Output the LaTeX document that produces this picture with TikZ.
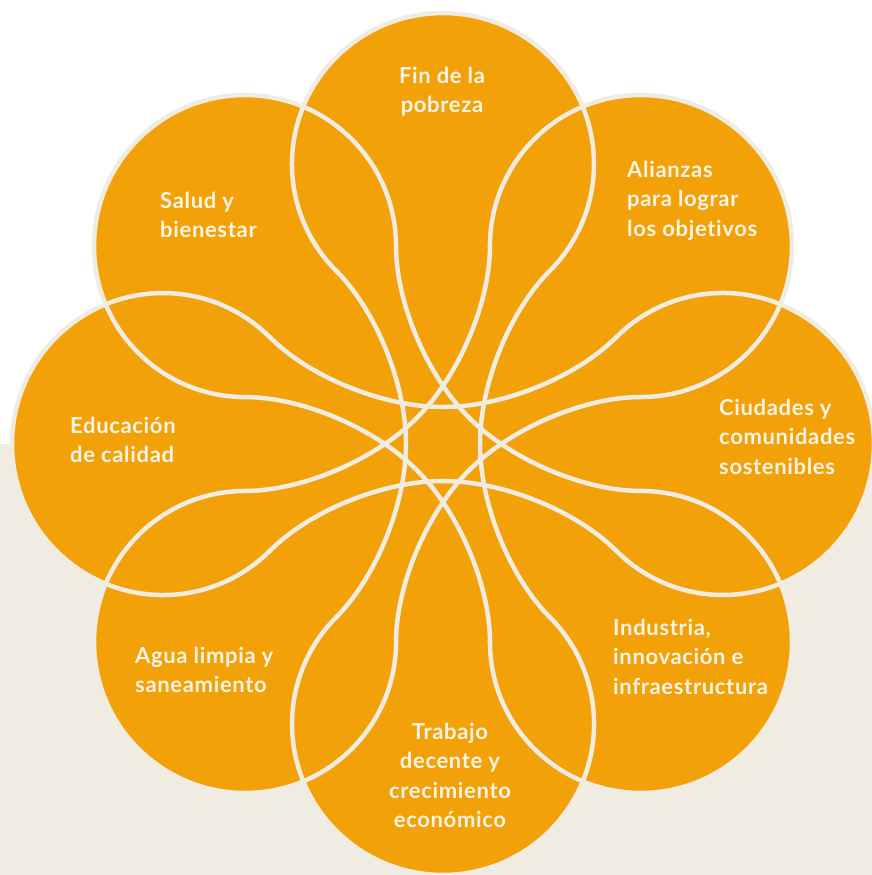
\documentclass[tikz,border=0pt]{standalone}
\usepackage{fontspec}
\newfontfamily\lblfont{Lato}[Ligatures=NoCommon, LetterSpace=3]
\definecolor{petal}{RGB}{242,161,8}
\definecolor{cream}{RGB}{240,236,226}
\definecolor{ground}{RGB}{240,236,226}
\definecolor{txt}{RGB}{250,244,230}
\def\bonepath{(-173.2,106.8) .. controls (-133.2,66.8) and (-60,37) .. (0,37)
  .. controls (60,37) and (133.2,66.8) .. (173.2,106.8)
  arc[start angle=135, end angle=-135, radius=151pt]
  .. controls (133.2,-66.8) and (60,-37) .. (0,-37)
  .. controls (-60,-37) and (-133.2,-66.8) .. (-173.2,-106.8)
  arc[start angle=-45, end angle=-315, radius=151pt] -- cycle}
\begin{document}
\begin{tikzpicture}[x=1pt,y=1pt,
  lbl/.style={inner sep=0pt, text=txt, font=\lblfont\bfseries\fontsize{22}{29.5}\selectfont},
  petalfill/.style={fill=petal},
  petaledge/.style={draw=cream, line width=4.5pt}]
\useasboundingbox (0,0) rectangle (872,-875);
\clip (0,0) rectangle (872,-875);
\fill[ground] (0,-444) rectangle (872,-875);
\foreach \a in {0,45,90,135} {
  \fill[petalfill, shift={(443,-444)}, rotate=\a] \bonepath;
}
\foreach \a in {0,45,90,135} {
  \draw[petaledge, shift={(443,-444)}, rotate=\a] \bonepath;
}
\node[lbl, anchor=base] (fin) at (442,-83) {\begin{tabular}[t]{@{}c@{}}Fin de la\\pobreza\end{tabular}};
\node[lbl, anchor=base west] (salud) at (160,-208) {\begin{tabular}[t]{@{}l@{}}Salud y\\bienestar\end{tabular}};
\node[lbl, anchor=base west] (alianzas) at (627,-177) {\begin{tabular}[t]{@{}l@{}}Alianzas\\para lograr\\los objetivos\end{tabular}};
\node[lbl, anchor=base west] (educ) at (70,-433) {\begin{tabular}[t]{@{}l@{}}Educación\\de calidad\end{tabular}};
\node[lbl, anchor=base west] (ciudades) at (719,-415) {\begin{tabular}[t]{@{}l@{}}Ciudades y\\comunidades\\sostenibles\end{tabular}};
\node[lbl, anchor=base west] (agua) at (135,-663) {\begin{tabular}[t]{@{}l@{}}Agua limpia y\\saneamiento\end{tabular}};
\node[lbl, anchor=base west] (industria) at (613,-635) {\begin{tabular}[t]{@{}l@{}}Industria,\\innovación e\\infraestructura\end{tabular}};
\node[lbl, anchor=base] (trabajo) at (450,-739) {\begin{tabular}[t]{@{}c@{}}Trabajo\\decente y\\crecimiento\\económico\end{tabular}};
\end{tikzpicture}
\end{document}
